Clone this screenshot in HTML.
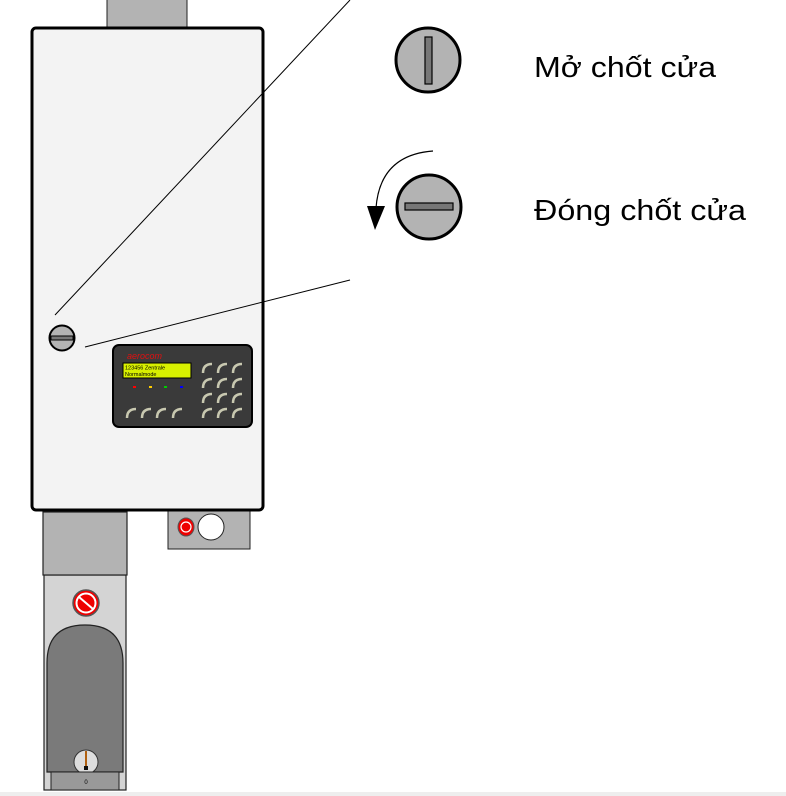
<!DOCTYPE html>
<html><head><meta charset="utf-8"><style>
html,body{margin:0;padding:0;background:#fff;}
svg{display:block;}
</style></head><body>
<svg width="786" height="796" viewBox="0 0 786 796" xmlns="http://www.w3.org/2000/svg" font-family="Liberation Sans, sans-serif">
<rect x="0" y="792" width="786" height="4" fill="#eeeeee"/>
<rect x="107" y="-1" width="80" height="30" fill="#b3b3b3" stroke="#222" stroke-width="1"/>
<rect x="44" y="575" width="82" height="215" fill="#d4d4d4" stroke="#222" stroke-width="1.2"/>
<rect x="43" y="512" width="84" height="63" fill="#b3b3b3" stroke="#222" stroke-width="1.2"/>
<circle cx="86" cy="603" r="13" fill="#e00" stroke="#555" stroke-width="1.5"/>
<circle cx="86" cy="603" r="9.5" fill="none" stroke="#fff" stroke-width="2"/>
<line x1="79" y1="597" x2="93" y2="609" stroke="#fff" stroke-width="2"/>
<path d="M47 663 Q47 625 85 625 Q123 625 123 663 L123 772 L47 772 Z" fill="#7a7a7a" stroke="#222" stroke-width="1.2"/>
<circle cx="86" cy="762" r="12" fill="#ddd" stroke="#333" stroke-width="1"/>
<rect x="85" y="751" width="2" height="16" fill="#b06010"/>
<rect x="84" y="766" width="4" height="4" fill="#111"/>
<rect x="51" y="772" width="68" height="18" fill="#999" stroke="#222" stroke-width="1"/>
<text x="86" y="784" font-size="6" text-anchor="middle">0</text>
<rect x="168" y="508" width="82" height="41" fill="#b3b3b3" stroke="#222" stroke-width="1"/>
<ellipse cx="186" cy="527" rx="8" ry="9" fill="#e00" stroke="#555" stroke-width="1"/>
<circle cx="186" cy="527" r="5" fill="none" stroke="#fff" stroke-width="1.2"/>
<circle cx="211" cy="527" r="13" fill="#fff" stroke="#222" stroke-width="1"/>
<rect x="32" y="28" width="231" height="482" rx="4" fill="#f3f3f3" stroke="#000" stroke-width="3"/>
<circle cx="62" cy="338" r="12.5" fill="#b3b3b3" stroke="#000" stroke-width="2"/>
<rect x="51" y="336" width="22" height="4" fill="#777" stroke="#000" stroke-width="1"/>
<rect x="113" y="345" width="139" height="82" rx="6" fill="#3a3a3a" stroke="#000" stroke-width="2"/>
<text x="127" y="359" font-size="9" font-style="italic" fill="#e01010">aerocom</text>
<rect x="123" y="363" width="68" height="15" fill="#d8f000" stroke="#000" stroke-width="1"/>
<text x="125" y="369.5" font-size="5.5" fill="#000">123456 Zentrale</text>
<text x="125" y="376" font-size="5.5" fill="#000">Normalmode</text>
<rect x="133" y="386" width="3" height="2" fill="#f00"/>
<rect x="149" y="386" width="3" height="2" fill="#fc0"/>
<rect x="164" y="386" width="3" height="2" fill="#0c0"/>
<rect x="180" y="386" width="3" height="2" fill="#00f"/>
<g fill="none" stroke="#c8c8b0" stroke-width="2.5">
<path d="M203 373 Q203 364 212 364"/><path d="M218 373 Q218 364 227 364"/><path d="M233 373 Q233 364 242 364"/>
<path d="M203 388 Q203 379 212 379"/><path d="M218 388 Q218 379 227 379"/><path d="M233 388 Q233 379 242 379"/>
<path d="M203 403 Q203 394 212 394"/><path d="M218 403 Q218 394 227 394"/><path d="M233 403 Q233 394 242 394"/>
<path d="M203 418 Q203 409 212 409"/><path d="M218 418 Q218 409 227 409"/><path d="M233 418 Q233 409 242 409"/>
<path d="M127 418 Q127 409 136 409"/><path d="M142 418 Q142 409 151 409"/><path d="M157 418 Q157 409 166 409"/><path d="M173 418 Q173 409 182 409"/>
</g>
<line x1="55" y1="315" x2="350" y2="0" stroke="#000" stroke-width="1"/>
<line x1="85" y1="347" x2="350" y2="280" stroke="#000" stroke-width="1"/>
<circle cx="428" cy="60" r="32" fill="#b3b3b3" stroke="#000" stroke-width="3"/>
<rect x="425" y="37" width="7" height="47" fill="#777" stroke="#000" stroke-width="1.2"/>
<circle cx="429" cy="207" r="32" fill="#b3b3b3" stroke="#000" stroke-width="3"/>
<rect x="405" y="203" width="48" height="7" fill="#777" stroke="#000" stroke-width="1.2"/>
<path d="M433 151 Q380 155 376 208" fill="none" stroke="#000" stroke-width="1.2"/>
<polygon points="367,206 385,206 375,230" fill="#000"/>
<text x="534" y="77" font-size="29" fill="#000" textLength="182" lengthAdjust="spacingAndGlyphs">Mở chốt cửa</text>
<text x="534" y="220" font-size="29" fill="#000" textLength="212" lengthAdjust="spacingAndGlyphs">Đóng chốt cửa</text>
</svg>
</body></html>
